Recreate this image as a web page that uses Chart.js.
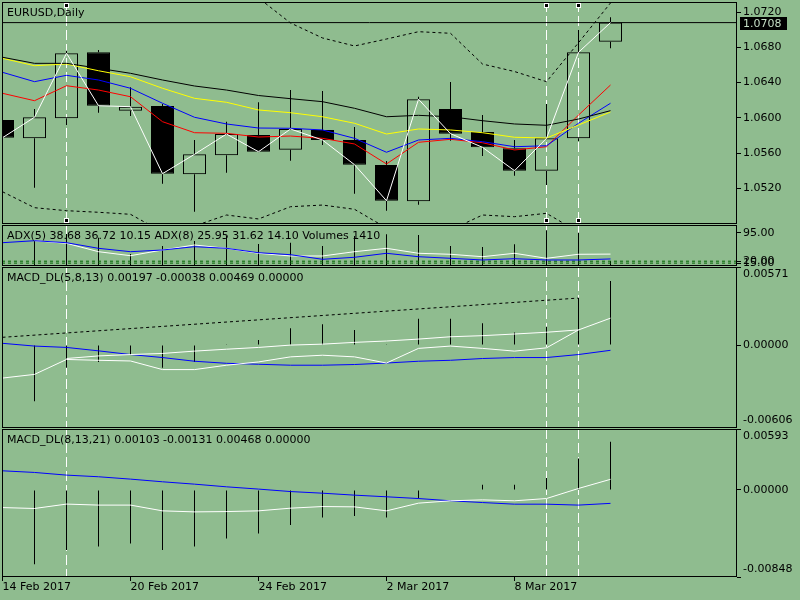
<!DOCTYPE html>
<html>
<head>
<meta charset="utf-8">
<title>EURUSD,Daily</title>
<script src="https://cdn.jsdelivr.net/npm/chart.js@4.4.1/dist/chart.umd.min.js"></script>
<style>
  html, body { margin: 0; padding: 0; }
  body { width: 800px; height: 600px; background: #8fbc8f; position: relative; overflow: hidden; }
  canvas { position: absolute; left: 0; }
</style>
</head>
<body>
<canvas id="mainChart" width="800" height="224" style="top:0"></canvas>
<canvas id="adxChart" width="800" height="42" style="top:225px"></canvas>
<canvas id="macdFast" width="800" height="161" style="top:267px"></canvas>
<canvas id="macdSlow" width="800" height="171" style="top:429px"></canvas>
<script>
// Barras diarias
const dates = ['14 Feb 2017', '15 Feb 2017', '16 Feb 2017', '17 Feb 2017', '20 Feb 2017', '21 Feb 2017',
    '22 Feb 2017', '23 Feb 2017', '24 Feb 2017', '27 Feb 2017', '28 Feb 2017', '1 Mar 2017', '2 Mar 2017',
    '3 Mar 2017', '6 Mar 2017', '7 Mar 2017', '8 Mar 2017', '9 Mar 2017', '10 Mar 2017', '13 Mar 2017'];
const dateTickBars = [0, 4, 8, 12, 16];
const markerBars = [2, 17, 18];

const opens  = [1.05975, 1.05767, 1.05994, 1.06743, 1.06080, 1.06134, 1.05359, 1.05574, 1.05805, 1.05638,
                1.05862, 1.05748, 1.05464, 1.05052, 1.06100, 1.05839, 1.05654, 1.05400, 1.05767, 1.06864];
const highs  = [1.06000, 1.06100, 1.06760, 1.06769, 1.06346, 1.06157, 1.05748, 1.05956, 1.06176, 1.06315,
                1.06304, 1.05896, 1.05510, 1.06240, 1.06406, 1.06032, 1.05748, 1.06157, 1.06996, 1.07140];
const lows   = [1.05750, 1.05207, 1.05918, 1.06058, 1.06020, 1.05252, 1.04934, 1.05377, 1.05610, 1.05513,
                1.05691, 1.05139, 1.04946, 1.05014, 1.05740, 1.05567, 1.05343, 1.05237, 1.05737, 1.06789];
const closes = [1.05774, 1.06006, 1.06732, 1.06137, 1.06126, 1.05366, 1.05586, 1.05816, 1.05615, 1.05873,
                1.05748, 1.05468, 1.05059, 1.06210, 1.05820, 1.05665, 1.05400, 1.05767, 1.06743, 1.07080];
const bid = 1.0708;

// Medias y bandas
const maBlack  = [1.06687, 1.06618, 1.06618, 1.06562, 1.06505, 1.06429, 1.06361, 1.06315, 1.06253, 1.06217,
                  1.06183, 1.06108, 1.06012, 1.06028, 1.06012, 1.05967, 1.05930, 1.05915, 1.05986, 1.06081];
const maYellow = [1.06675, 1.06591, 1.06610, 1.06534, 1.06466, 1.06335, 1.06221, 1.06176, 1.06089, 1.06058,
                  1.06012, 1.05938, 1.05816, 1.05873, 1.05862, 1.05831, 1.05779, 1.05771, 1.05918, 1.06066];
const maBlue   = [1.06516, 1.06410, 1.06482, 1.06429, 1.06335, 1.06165, 1.06006, 1.05930, 1.05884, 1.05881,
                  1.05862, 1.05767, 1.05609, 1.05748, 1.05767, 1.05729, 1.05672, 1.05683, 1.05938, 1.06165];
const maRed    = [1.06278, 1.06194, 1.06364, 1.06315, 1.06239, 1.05956, 1.05831, 1.05824, 1.05782, 1.05793,
                  1.05767, 1.05703, 1.05476, 1.05722, 1.05756, 1.05717, 1.05635, 1.05672, 1.06031, 1.06372];
const upperBand = [1.07520, 1.07570, 1.07680, 1.07720, 1.07700, 1.07640, 1.07550, 1.07450, 1.07360, 1.07076,
                   1.06906, 1.06815, 1.06894, 1.06977, 1.06959, 1.06610, 1.06525, 1.06410, 1.06852, 1.07303];
const lowerBand = [1.05161, 1.04980, 1.04946, 1.04928, 1.04905, 1.04704, 1.04772, 1.04897, 1.04852, 1.04991,
                   1.05010, 1.04962, 1.04749, 1.04670, 1.04727, 1.04897, 1.04878, 1.04916, 1.04704, 1.04557];
const priceTicks = [1.0520, 1.0560, 1.0600, 1.0640, 1.0680, 1.0720];

// ADX y volumen
const adx8 = [68.7, 73.9, 68.7, 53.9, 45.0, 49.5, 58.2, 53.9, 42.4, 37.1, 25.0, 30.3, 40.8, 31.8, 27.6, 23.2, 26.6, 23.2, 23.2, 25.95];
const adx5 = [null, 73.9, 67.1, 45.0, 34.5, 49.5, 62.6, 53.9, 40.8, 33.7, 33.7, 45.0, 53.9, 40.8, 38.2, 31.8, 40.8, 27.6, 38.2, 38.68];
const adx5Info = [38.68, 36.72, 10.15];
const adx8Info = [25.95, 31.62, 14.10];
const volumes = [8000, 8400, 10850, 9550, 3850, 6650, 8400, 10150, 7350, 7800,
                 6650, 10150, 10750, 10500, 6650, 6300, 7250, 12150, 11300, 1410];
const adxLevels = [20, 15];
const adxTicks = [95, 20, 15];

// MACD_DL(5,8,13)
const macdFastMain   = [-0.00241, -0.00214, -0.00105, -0.00111, -0.00116, -0.00179, -0.00179, -0.00147, -0.00123, -0.00086,
                        -0.00074, -0.00086, -0.00131, -0.00024, -0.00007, -0.00024, -0.00044, -0.00020, 0.00111, 0.00197];
const macdFastSignal = [null, null, -0.00098, -0.00079, -0.00069, -0.00061, -0.00044, -0.00030, -0.00017, 0.00000,
                        0.00007, 0.00020, 0.00030, 0.00044, 0.00061, 0.00069, 0.00081, 0.00094, 0.00111, null];
const macdFastBlue   = [0.00013, -0.00007, -0.00017, -0.00042, -0.00069, -0.00091, -0.00118, -0.00133, -0.00140, -0.00147,
                        -0.00147, -0.00142, -0.00131, -0.00118, -0.00111, -0.00098, -0.00091, -0.00091, -0.00069, -0.00038];
const macdFastHist   = [0, -0.00411, -0.00165, -0.00123, -0.00066, -0.00165, -0.00123, 0.00002, 0.00037, 0.00123,
                        0.00152, 0.00110, 0.00002, 0.00192, 0.00192, 0.00160, 0.00093, 0.00135, 0.00344, 0.00469];
const trendBars = [0, 18];
const trendValues = [0.00057, 0.00344];

// MACD_DL(8,13,21)
const macdSlowMain = [-0.00172, -0.00181, -0.00138, -0.00148, -0.00148, -0.00204, -0.00214, -0.00211, -0.00204, -0.00178,
                      -0.00162, -0.00165, -0.00204, -0.00129, -0.00106, -0.00097, -0.00106, -0.00084, 0.00014, 0.00103];
const macdSlowBlue = [0.00186, 0.00170, 0.00144, 0.00128, 0.00105, 0.00079, 0.00056, 0.00030, 0.00008, -0.00016,
                      -0.00032, -0.00051, -0.00067, -0.00084, -0.00106, -0.00123, -0.00139, -0.00139, -0.00148, -0.00131];
const macdSlowHist = [0, -0.00724, -0.00584, -0.00552, -0.00523, -0.00584, -0.00552, -0.00474, -0.00425, -0.00341,
                      -0.00269, -0.00253, -0.00269, -0.00084, 0.00005, 0.00050, 0.00050, 0.00115, 0.00306, 0.00468];

// Rango horizontal comun: 32 px por barra
const xMin = -0.015625;
const xMax = 22.953125;

Chart.defaults.font.family = '"DejaVu Sans", sans-serif';
Chart.defaults.font.size = 11;
Chart.defaults.color = '#000';
Chart.defaults.animation = false;
Chart.defaults.events = [];
Chart.defaults.plugins.legend.display = false;
Chart.defaults.plugins.tooltip.enabled = false;

const last = arr => arr[arr.length - 1];
const pts = arr => arr.map((y, i) => ({ x: i, y }));
const flat = v => [{ x: xMin, y: v }, { x: xMax, y: v }];

function line(arr, color, extra) {
    return Object.assign({
        type: 'line', data: pts(arr), borderColor: color, borderWidth: 1,
        pointRadius: 0, tension: 0, fill: false, order: 1
    }, extra || {});
}

function thinBars(arr, extra) {
    return Object.assign({
        type: 'bar', data: pts(arr), backgroundColor: '#000', borderWidth: 0,
        barThickness: 1, grouped: false, inflateAmount: 0, order: 10
    }, extra || {});
}

function xScale(show) {
    return {
        type: 'linear', min: xMin, max: xMax, offset: false, display: show,
        afterBuildTicks: s => { s.ticks = dateTickBars.map(v => ({ value: v })); },
        afterFit: s => { s.paddingLeft = 0; s.paddingRight = 0; if (show) s.height = 23; },
        grid: { drawOnChartArea: false, tickLength: 4, color: '#000', offset: false },
        border: { display: false },
        ticks: { autoSkip: false, maxRotation: 0, align: 'start', padding: 0, callback: v => dates[v] || '' }
    };
}

function yScale(min, max, ticks, fmt) {
    return {
        type: 'linear', position: 'right', min, max,
        afterBuildTicks: s => { s.ticks = ticks.map(v => ({ value: v })); },
        afterFit: s => { s.width = 63; s.paddingTop = 0; s.paddingBottom = 0; },
        grid: { drawOnChartArea: false, tickLength: 4, color: '#000' },
        border: { display: false },
        ticks: { padding: 2, autoSkip: false, callback: fmt }
    };
}

// Marco de cada ventana
const paneFrame = {
    id: 'paneFrame',
    afterDraw(chart) {
        const { ctx, chartArea: a } = chart;
        ctx.save();
        ctx.strokeStyle = '#000';
        ctx.lineWidth = 1;
        ctx.strokeRect(a.left + 0.5, a.top + 0.5, a.right - a.left - 1, a.bottom - a.top - 1);
        ctx.restore();
    }
};

function paneLabel(text) {
    return {
        id: 'paneLabel',
        afterDatasetsDraw(chart) {
            const { ctx, chartArea: a } = chart;
            ctx.save();
            ctx.font = '11px "DejaVu Sans", sans-serif';
            ctx.fillStyle = '#000';
            ctx.textBaseline = 'middle';
            ctx.fillText(text, a.left + 5, a.top + 11);
            ctx.restore();
        }
    };
}

// Lineas verticales (objetos seleccionados)
function markers(squares) {
    return {
        id: 'markers',
        beforeDatasetsDraw(chart) {
            const { ctx, chartArea: a, scales } = chart;
            ctx.save();
            ctx.beginPath();
            ctx.rect(a.left, a.top, a.right - a.left, a.bottom - a.top);
            ctx.clip();
            ctx.strokeStyle = '#fff';
            ctx.lineWidth = 1;
            ctx.setLineDash([10, 4]);
            markerBars.forEach(b => {
                const px = Math.floor(scales.x.getPixelForValue(b)) + 0.5;
                ctx.beginPath();
                ctx.moveTo(px, a.top);
                ctx.lineTo(px, a.bottom);
                ctx.stroke();
            });
            ctx.restore();
        },
        afterDatasetsDraw(chart) {
            if (!squares) return;
            const { ctx, chartArea: a, scales } = chart;
            ctx.save();
            markerBars.forEach(b => {
                const px = Math.floor(scales.x.getPixelForValue(b));
                [a.top + 1, a.bottom - 6].forEach(y => {
                    ctx.fillStyle = '#fff';
                    ctx.fillRect(px - 2, y, 5, 5);
                    ctx.fillStyle = '#000';
                    ctx.fillRect(px - 1, y + 1, 3, 3);
                });
            });
            ctx.restore();
        }
    };
}

// Etiquetas de max/min de las subventanas
const edgeLabels = {
    id: 'edgeLabels',
    afterDraw(chart) {
        const { ctx, chartArea: a, scales: { y } } = chart;
        ctx.save();
        ctx.font = '11px "DejaVu Sans", sans-serif';
        ctx.fillStyle = '#000';
        ctx.textBaseline = 'middle';
        ctx.fillText(y.max.toFixed(5), a.right + 6, a.top + 7);
        ctx.fillText(y.min.toFixed(5), a.right + 6, a.bottom - 8);
        ctx.restore();
    }
};

// Precio actual en la escala
const bidLabel = {
    id: 'bidLabel',
    afterDraw(chart) {
        const { ctx, chartArea: a, scales: { y } } = chart;
        const py = Math.round(y.getPixelForValue(bid));
        ctx.save();
        ctx.fillStyle = '#000';
        ctx.fillRect(a.right + 3, py - 6, 47, 13);
        ctx.font = '11px "DejaVu Sans", sans-serif';
        ctx.fillStyle = '#c4dec4';
        ctx.textBaseline = 'middle';
        ctx.fillText(bid.toFixed(4), a.right + 6, py + 1);
        ctx.restore();
    }
};

// Ventana principal
const upWicks = opens.map((o, i) => ({ x: i, y: [Math.max(o, closes[i]), highs[i]] }));
const downWicks = opens.map((o, i) => ({ x: i, y: [lows[i], Math.min(o, closes[i])] }));
const bodies = opens.map((o, i) => ({ x: i, y: [o, closes[i]] }));

new Chart(document.getElementById('mainChart'), {
    type: 'line',
    data: {
        datasets: [
            { type: 'bar', data: upWicks, backgroundColor: '#000', borderWidth: 0, barThickness: 1, grouped: false, inflateAmount: 0, order: 20 },
            { type: 'bar', data: downWicks, backgroundColor: '#000', borderWidth: 0, barThickness: 1, grouped: false, inflateAmount: 0, order: 20 },
            {
                type: 'bar', data: bodies, grouped: false, barThickness: 23, inflateAmount: 0,
                backgroundColor: opens.map((o, i) => closes[i] < o ? '#000' : 'rgba(0,0,0,0)'),
                borderColor: '#000', borderWidth: 1, borderSkipped: false, order: 19
            },
            line(upperBand, '#000', { borderDash: [3, 3], order: 2 }),
            line(lowerBand, '#000', { borderDash: [3, 3], order: 2 }),
            line(maBlack, '#000'),
            line(maYellow, '#ffff00'),
            line(maBlue, '#0000ff'),
            line(maRed, '#ff0000'),
            { type: 'line', data: flat(bid), borderColor: '#000', borderWidth: 1, pointRadius: 0, order: 3 },
            line(closes, '#ffffff', { order: 0 })
        ]
    },
    options: {
        responsive: false,
        layout: { padding: { left: 2, top: 2, right: 0, bottom: 0 } },
        scales: {
            x: xScale(false),
            y: yScale(1.07314, 1.04795, priceTicks, v => v.toFixed(4))
        }
    },
    plugins: [markers(true), paneLabel('EURUSD,Daily'), paneFrame, bidLabel]
});

// ADX + volumen
const adxText = 'ADX(5) ' + adx5Info.map(v => v.toFixed(2)).join(' ') +
    ' ADX(8) ' + adx8Info.map(v => v.toFixed(2)).join(' ') + ' Volumes ' + last(volumes);

new Chart(document.getElementById('adxChart'), {
    type: 'line',
    data: {
        datasets: [
            thinBars(volumes, { yAxisID: 'yv' }),
            ...adxLevels.map(v => ({ type: 'line', data: flat(v), borderColor: '#006400', borderWidth: 1, borderDash: [3, 3], pointRadius: 0, order: 5 })),
            line(adx8, '#0000ff'),
            line(adx5, '#ffffff')
        ]
    },
    options: {
        responsive: false,
        layout: { padding: { left: 2, top: 0, right: 0, bottom: 1 } },
        scales: {
            x: xScale(false),
            y: yScale(7.37, 115.26, adxTicks, v => v.toFixed(2)),
            yv: { type: 'linear', display: false, min: -350, max: 14000 }
        }
    },
    plugins: [markers(false), paneLabel(adxText), paneFrame]
});

// MACD rapido
const fastMin = -0.00606, fastMax = 0.00571;
const fastText = 'MACD_DL(5,8,13) ' +
    [last(macdFastMain), last(macdFastBlue), last(macdFastHist), 0].map(v => v.toFixed(5)).join(' ');

new Chart(document.getElementById('macdFast'), {
    type: 'line',
    data: {
        datasets: [
            thinBars(macdFastHist),
            line(macdFastMain, '#ffffff'),
            line(macdFastSignal, '#ffffff'),
            line(macdFastBlue, '#0000ff'),
            {
                type: 'line', data: trendBars.map((b, i) => ({ x: b, y: trendValues[i] })),
                borderColor: '#000', borderWidth: 1, borderDash: [3, 3], pointRadius: 0, order: 2
            }
        ]
    },
    options: {
        responsive: false,
        layout: { padding: { left: 2, top: 0, right: 0, bottom: 0 } },
        scales: {
            x: xScale(false),
            y: yScale(fastMin, fastMax, [fastMax, 0, fastMin], v => v === 0 ? v.toFixed(5) : '')
        }
    },
    plugins: [markers(false), paneLabel(fastText), paneFrame, edgeLabels]
});

// MACD lento
const slowMin = -0.00848, slowMax = 0.00593;
const slowText = 'MACD_DL(8,13,21) ' +
    [last(macdSlowMain), last(macdSlowBlue), last(macdSlowHist), 0].map(v => v.toFixed(5)).join(' ');

new Chart(document.getElementById('macdSlow'), {
    type: 'line',
    data: {
        datasets: [
            thinBars(macdSlowHist),
            line(macdSlowMain, '#ffffff'),
            line(macdSlowBlue, '#0000ff')
        ]
    },
    options: {
        responsive: false,
        layout: { padding: { left: 2, top: 0, right: 0, bottom: 0 } },
        scales: {
            x: xScale(true),
            y: yScale(slowMin, slowMax, [slowMax, 0, slowMin], v => v === 0 ? v.toFixed(5) : '')
        }
    },
    plugins: [markers(false), paneLabel(slowText), paneFrame, edgeLabels]
});
</script>
</body>
</html>
